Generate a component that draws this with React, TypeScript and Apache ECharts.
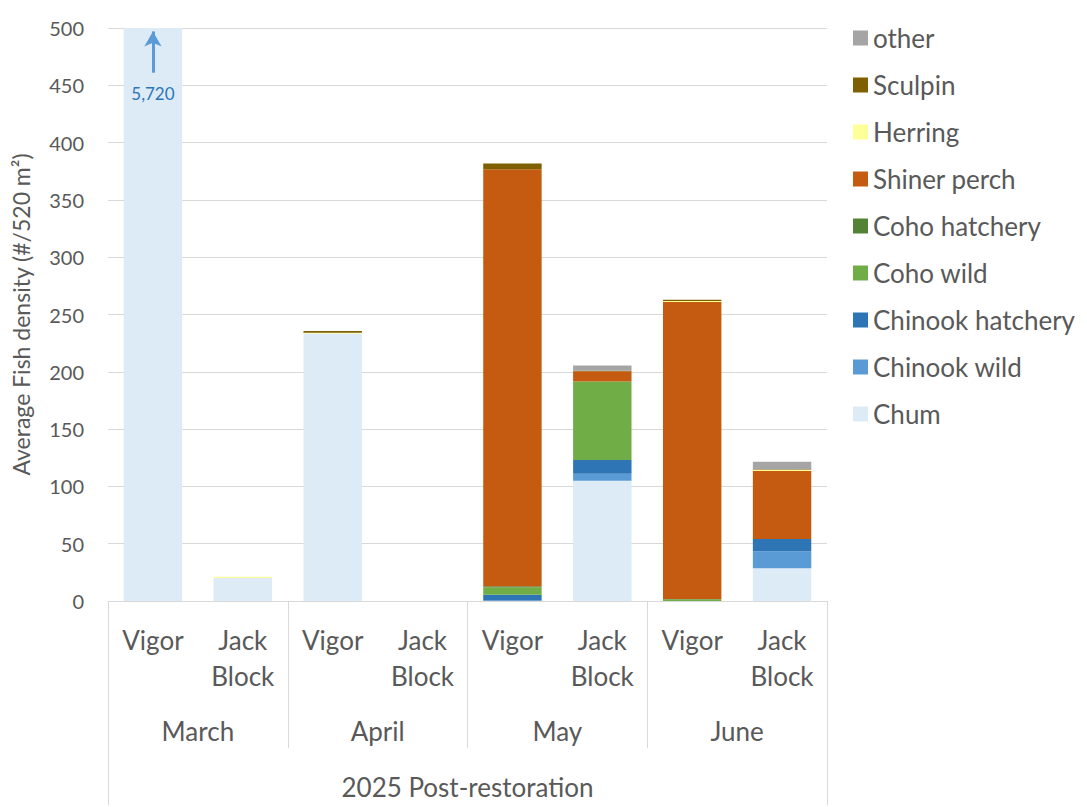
import React, { useEffect, useRef } from "react";
import * as echarts from "echarts";

const subLabels = ["Vigor", "Jack\nBlock", "Vigor", "Jack\nBlock", "Vigor", "Jack\nBlock", "Vigor", "Jack\nBlock"];
const months = ["March", "April", "May", "June"];
const period = ["2025 Post-restoration"];
const yTicks = [0, 50, 100, 150, 200, 250, 300, 350, 400, 450, 500];

const chum = [5720, 20, 233.5, 0, 0, 105, 0, 28.5];
const chinookWild = [0, 0, 0, 0, 0.5, 6, 0, 15];
const chinookHatchery = [0, 0, 0, 0, 5, 12, 0, 10.5];
const cohoWild = [0, 0, 0, 0, 6.5, 68.5, 1.5, 0];
const cohoHatchery = [0, 0, 0, 0, 0.8, 0, 0.3, 0];
const shinerPerch = [0, 0, 0, 0, 364, 9, 259, 59.5];
const herring = [0, 1.2, 0.5, 0, 0, 0, 1, 1];
const sculpin = [0, 0, 1.5, 0, 5, 0.5, 1, 0.5];
const other = [0, 0, 0, 0, 0, 4.5, 0, 6.5];

const seriesDefs = [
  { name: "Chum", data: chum, color: "#DDEBF7" },
  { name: "Chinook wild", data: chinookWild, color: "#5B9BD5" },
  { name: "Chinook hatchery", data: chinookHatchery, color: "#2E75B6" },
  { name: "Coho wild", data: cohoWild, color: "#70AD47" },
  { name: "Coho hatchery", data: cohoHatchery, color: "#548235" },
  { name: "Shiner perch", data: shinerPerch, color: "#C55A11" },
  { name: "Herring", data: herring, color: "#FFFF99" },
  { name: "Sculpin", data: sculpin, color: "#7F6000" },
  { name: "other", data: other, color: "#A5A5A5" },
];

const FONT = "Lato, 'Open Sans', sans-serif";
const TXT = "#595959";
const LINE = "#D9D9D9";

export default function App() {
  const ref = useRef<HTMLDivElement>(null);
  useEffect(() => {
    if (!ref.current) return;
    const chart = echarts.init(ref.current, null, { renderer: "svg" });
    chart.setOption({
      animation: false,
      textStyle: { fontFamily: FONT, color: TXT },
      grid: { left: 108, right: 260, top: 28, bottom: 206, containLabel: false },
      legend: {
        orient: "vertical",
        left: 848,
        top: 20,
        itemWidth: 15,
        itemHeight: 15,
        itemGap: 21,
        icon: "rect",
        data: seriesDefs.map((s) => s.name).reverse(),
        textStyle: { fontFamily: FONT, fontSize: 26, color: TXT, lineHeight: 26, padding: [0, 0, 0, 0] },
      },
      xAxis: [
        {
          type: "category",
          data: subLabels,
          position: "bottom",
          axisLine: { show: true, lineStyle: { color: LINE, width: 1 } },
          axisTick: { show: false },
          axisLabel: { interval: 0, fontSize: 26, lineHeight: 36, margin: 21, color: TXT, fontFamily: FONT },
        },
        {
          type: "category",
          data: months,
          position: "bottom",
          axisLine: { show: false },
          axisTick: { show: true, length: 147, lineStyle: { color: LINE } },
          axisLabel: { interval: 0, fontSize: 26, lineHeight: 36, margin: 112, color: TXT, fontFamily: FONT },
        },
        {
          type: "category",
          data: period,
          position: "bottom",
          axisLine: { show: false },
          axisTick: { show: true, length: 204, lineStyle: { color: LINE } },
          axisLabel: { interval: 0, fontSize: 26, lineHeight: 28, margin: 172, color: TXT, fontFamily: FONT },
        },
      ],
      yAxis: {
        type: "value",
        min: yTicks[0],
        max: yTicks[yTicks.length - 1],
        interval: yTicks[1] - yTicks[0],
        name: "Average Fish density (#/520 m²)",
        nameLocation: "middle",
        nameGap: 76,
        nameTextStyle: { fontSize: 23, color: TXT, fontFamily: FONT },
        axisLine: { show: false },
        axisTick: { show: false },
        axisLabel: { fontSize: 20, color: TXT, margin: 24, fontFamily: FONT },
        splitLine: { lineStyle: { color: LINE } },
      },
      series: seriesDefs.map((s, i) => ({
        name: s.name,
        type: "bar",
        stack: "total",
        xAxisIndex: 0,
        barCategoryGap: "35%",
        clip: true,
        data: s.data,
        itemStyle: { color: s.color },
        emphasis: { disabled: true },
        ...(i === 0
          ? {
              markLine: {
                silent: true,
                symbol: ["none", "arrow"],
                symbolSize: [13, 15],
                lineStyle: { color: "#5B9BD5", width: 3, type: "solid" },
                label: {
                  show: true,
                  position: "start",
                  formatter: "5,720",
                  fontSize: 17,
                  color: "#2E75B6",
                  fontFamily: FONT,
                  distance: 12,
                },
                data: [[{ coord: [0, 461] }, { coord: [0, 497] }]],
              },
            }
          : {}),
      })),
    });
    return () => chart.dispose();
  }, []);
  return <div ref={ref} style={{ position: "absolute", left: 0, top: 0, width: 1087, height: 807 }} />;
}
